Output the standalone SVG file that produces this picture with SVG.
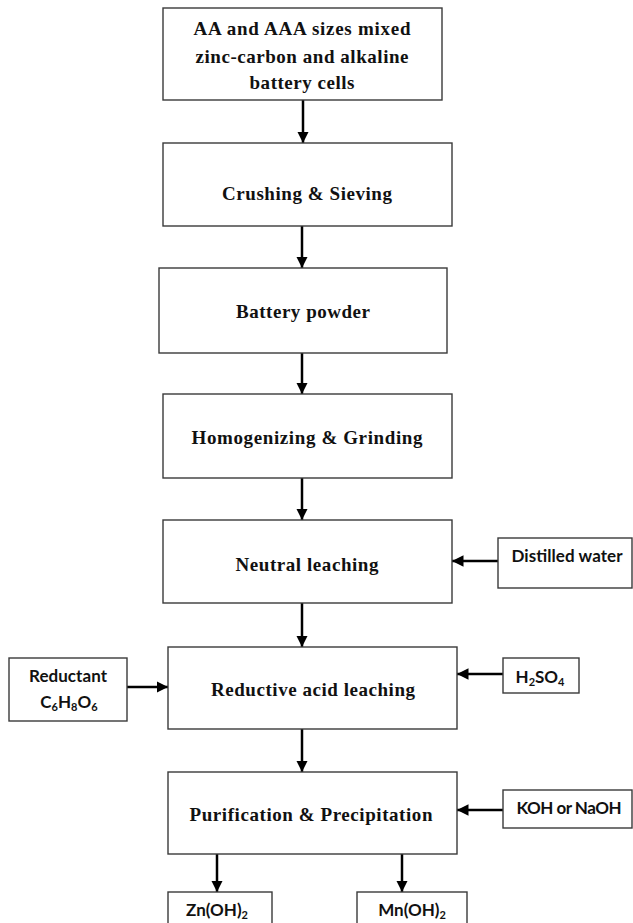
<svg xmlns="http://www.w3.org/2000/svg" width="633" height="923" viewBox="0 0 633 923">
<style>
.box{fill:#fff;stroke:#3a3a3a;stroke-width:1.4}
.main{font-family:"Liberation Serif","Times New Roman",serif;font-weight:bold;font-size:19px;fill:#111;text-anchor:middle}
.side{font-family:Lato,"Liberation Sans",sans-serif;font-weight:bold;font-size:17px;fill:#111;text-anchor:middle}
.sub{font-size:11px}
.con{stroke:#000;stroke-width:2.5;fill:none}
</style>
<defs>
<marker id="ah" viewBox="0 0 10 10" refX="10" refY="5" markerWidth="4.6" markerHeight="4.6" markerUnits="strokeWidth" orient="auto">
<path d="M0,0 L10,5 L0,10 z" fill="#000"/>
</marker>
</defs>
<rect width="633" height="923" fill="#fff"/>
<g id="connectors">
<line class="con" x1="303" y1="100" x2="303" y2="143" marker-end="url(#ah)"/>
<line class="con" x1="302" y1="226" x2="302" y2="268" marker-end="url(#ah)"/>
<line class="con" x1="302" y1="353" x2="302" y2="394" marker-end="url(#ah)"/>
<line class="con" x1="302" y1="478" x2="302" y2="520" marker-end="url(#ah)"/>
<line class="con" x1="302" y1="603" x2="302" y2="647" marker-end="url(#ah)"/>
<line class="con" x1="302" y1="729" x2="302" y2="772" marker-end="url(#ah)"/>
<line class="con" x1="498" y1="561" x2="452" y2="561" marker-end="url(#ah)"/>
<line class="con" x1="127" y1="687" x2="168" y2="687" marker-end="url(#ah)"/>
<line class="con" x1="503" y1="674" x2="457" y2="674" marker-end="url(#ah)"/>
<line class="con" x1="503" y1="810" x2="457" y2="810" marker-end="url(#ah)"/>
<line class="con" x1="217" y1="854" x2="217" y2="892" marker-end="url(#ah)"/>
<line class="con" x1="402" y1="854" x2="402" y2="892" marker-end="url(#ah)"/>
</g>
<g id="n1">
<rect class="box" x="163" y="8" width="279" height="92"/>
<text class="main" x="302" y="35" textLength="217" lengthAdjust="spacing">AA and AAA sizes mixed</text>
<text class="main" x="302" y="63" textLength="213" lengthAdjust="spacing">zinc-carbon and alkaline</text>
<text class="main" x="302" y="89" textLength="105" lengthAdjust="spacing">battery cells</text>
</g>
<g id="n2">
<rect class="box" x="163" y="143" width="289" height="83"/>
<text class="main" x="307" y="200" textLength="170" lengthAdjust="spacing">Crushing &amp; Sieving</text>
</g>
<g id="n3">
<rect class="box" x="159" y="268" width="288" height="85"/>
<text class="main" x="303" y="318" textLength="134" lengthAdjust="spacing">Battery powder</text>
</g>
<g id="n4">
<rect class="box" x="163" y="394" width="289" height="84"/>
<text class="main" x="307" y="444" textLength="231" lengthAdjust="spacing">Homogenizing &amp; Grinding</text>
</g>
<g id="n5">
<rect class="box" x="163" y="520" width="289" height="83"/>
<text class="main" x="307" y="571" textLength="143" lengthAdjust="spacing">Neutral leaching</text>
</g>
<g id="n6">
<rect class="box" x="168" y="647" width="289" height="82"/>
<text class="main" x="313" y="696" textLength="204" lengthAdjust="spacing">Reductive acid leaching</text>
</g>
<g id="n7">
<rect class="box" x="168" y="772" width="289" height="82"/>
<text class="main" x="311" y="821" textLength="243" lengthAdjust="spacing">Purification &amp; Precipitation</text>
</g>
<g id="distilled">
<rect class="box" x="498" y="538" width="134" height="50"/>
<text class="side" x="567" y="562" textLength="111" lengthAdjust="spacing">Distilled water</text>
</g>
<g id="reductant">
<rect class="box" x="9" y="658" width="118" height="63"/>
<text class="side" x="68" y="682" textLength="78" lengthAdjust="spacing">Reductant</text>
<text class="side" x="69" y="708">C<tspan class="sub" dy="3">6</tspan><tspan dy="-3">H</tspan><tspan class="sub" dy="3">8</tspan><tspan dy="-3">O</tspan><tspan class="sub" dy="3">6</tspan></text>
</g>
<g id="h2so4">
<rect class="box" x="503" y="658" width="76" height="35"/>
<text class="side" x="540" y="683">H<tspan class="sub" dy="3">2</tspan><tspan dy="-3">SO</tspan><tspan class="sub" dy="3">4</tspan></text>
</g>
<g id="koh">
<rect class="box" x="503" y="790" width="129" height="38"/>
<text class="side" x="569" y="814" textLength="105" lengthAdjust="spacing">KOH or NaOH</text>
</g>
<g id="zn">
<rect class="box" x="168" y="892" width="104" height="40"/>
<text class="side" x="217" y="916">Zn(OH)<tspan class="sub" dy="3">2</tspan></text>
</g>
<g id="mn">
<rect class="box" x="357" y="892" width="110" height="40"/>
<text class="side" x="412" y="916">Mn(OH)<tspan class="sub" dy="3">2</tspan></text>
</g>
</svg>
